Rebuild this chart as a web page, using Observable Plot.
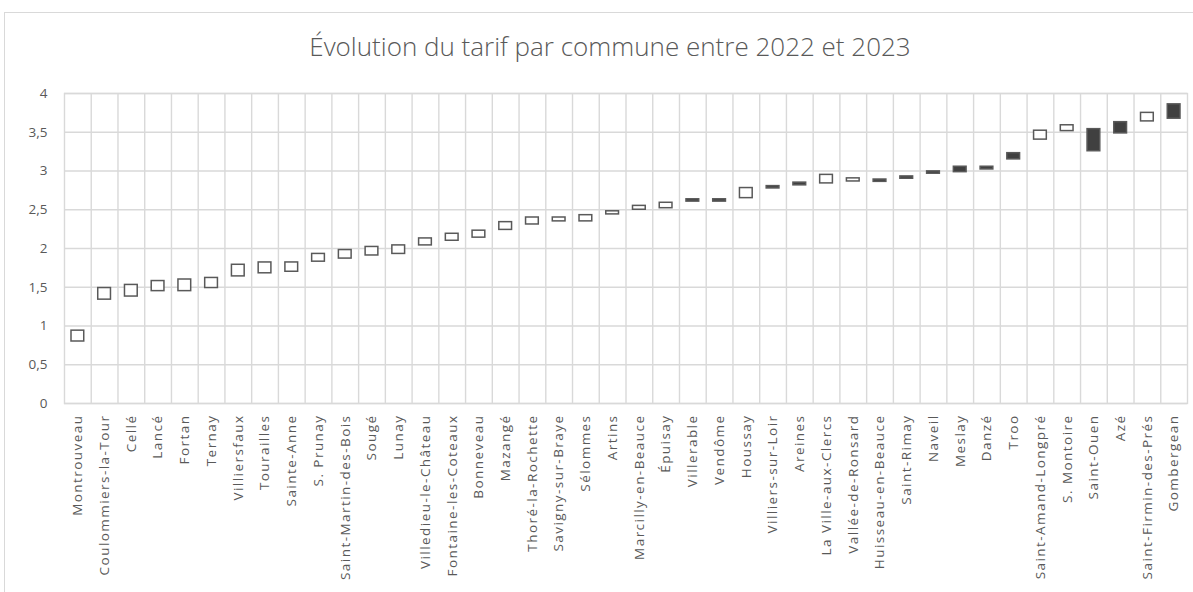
<!DOCTYPE html>
<html><head><meta charset="utf-8">
<script src="https://cdn.jsdelivr.net/npm/d3@7"></script>
<script src="https://cdn.jsdelivr.net/npm/@observablehq/plot@0.6"></script>
<style>
body{margin:0;background:#fff;overflow:hidden;}
#wrap{position:relative;width:1193px;height:592px;overflow:hidden;}
#border{position:absolute;left:4px;top:12px;width:1300px;height:700px;border:1px solid #d9d9d9;box-sizing:border-box;}
#title{position:absolute;left:0;width:1220px;top:29px;text-align:center;font-family:"Open Sans";font-weight:300;font-size:26px;line-height:34px;color:#595959;}
#chart{position:absolute;left:0;top:0;}
g[aria-label="text"] text{letter-spacing:1.45px;}
</style></head>
<body><div id="wrap"><div id="border"></div><div id="title">Évolution du tarif par commune entre 2022 et 2023</div><div id="chart"></div></div>
<script>
const communes = ["Montrouveau","Coulommiers-la-Tour","Cellé","Lancé","Fortan","Ternay","Villiersfaux","Tourailles","Sainte-Anne","S. Prunay","Saint-Martin-des-Bois","Sougé","Lunay","Villedieu-le-Château","Fontaine-les-Coteaux","Bonneveau","Mazangé","Thoré-la-Rochette","Savigny-sur-Braye","Sélommes","Artins","Marcilly-en-Beauce","Épuisay","Villerable","Vendôme","Houssay","Villiers-sur-Loir","Areines","La Ville-aux-Clercs","Vallée-de-Ronsard","Huisseau-en-Beauce","Saint-Rimay","Naveil","Meslay","Danzé","Troo","Saint-Amand-Longpré","S. Montoire","Saint-Ouen","Azé","Saint-Firmin-des-Prés","Gombergean"];
const tarif2022 = [0.80,1.34,1.38,1.45,1.45,1.49,1.64,1.68,1.70,1.83,1.87,1.91,1.93,2.04,2.10,2.14,2.24,2.31,2.35,2.35,2.44,2.50,2.52,2.635,2.635,2.65,2.805,2.85,2.84,2.865,2.89,2.93,2.995,3.055,3.055,3.23,3.405,3.515,3.54,3.63,3.64,3.86];
const tarif2023 = [0.94,1.49,1.53,1.58,1.60,1.62,1.79,1.82,1.82,1.93,1.98,2.02,2.04,2.13,2.19,2.23,2.34,2.40,2.40,2.43,2.48,2.55,2.59,2.605,2.605,2.78,2.775,2.815,2.95,2.905,2.86,2.90,2.965,2.985,3.02,3.15,3.52,3.59,3.255,3.485,3.75,3.675];
const yTicks = [0,0.5,1,1.5,2,2.5,3,3.5,4];

const data = communes.map((c,i)=>({commune:c, v2022:tarif2022[i], v2023:tarif2023[i]}));
const W=1193, H=592, mL=64, mR=6, mT=93, mB=189;
const bw = (W-mL-mR)/communes.length;
const fmt = d => String(d).replace(".", ",");
const grid = "#d9d9d9";
const chart = Plot.plot({
  width:W, height:H, marginLeft:mL, marginRight:mR, marginTop:mT, marginBottom:mB,
  style:{fontFamily:"Open Sans", fontSize:"13px", color:"#595959", background:"transparent", overflow:"visible"},
  x:{type:"band", domain:communes, padding:0, axis:null},
  y:{domain:[0,4], axis:null},
  marks:[
    Plot.ruleY(yTicks, {stroke:grid, strokeWidth:1.4}),
    Plot.ruleX(communes.slice(1), {x:d=>d, dx:-bw/2, stroke:grid, strokeWidth:1.4}),
    Plot.frame({stroke:grid, strokeWidth:1.4}),
    Plot.barY(data, {x:"commune", y1:"v2022", y2:"v2023",
      fill:d=>d.v2023>=d.v2022?"#ffffff":"#404040",
      stroke:"#595959", strokeWidth:1.5, insetLeft:7, insetRight:7}),
    Plot.axisY(yTicks, {tickSize:0, tickPadding:17, tickFormat:fmt, fontSize:13.5}),
    Plot.text(communes, {x:d=>d, frameAnchor:"bottom", rotate:-90, textAnchor:"end", lineAnchor:"middle", dy:11, fontSize:13.5, fill:"#595959"})
  ]
});
document.getElementById("chart").appendChild(chart);
</script>
</body></html>
